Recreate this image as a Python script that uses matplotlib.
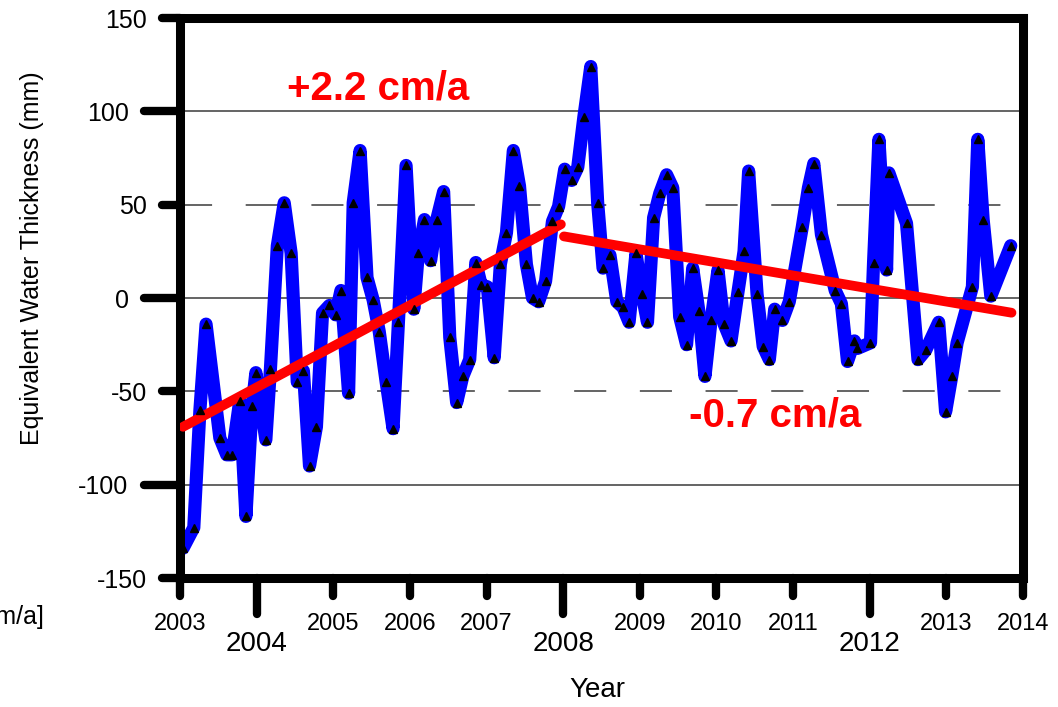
import numpy as np
import matplotlib
matplotlib.use('Agg')
import matplotlib.pyplot as plt
from matplotlib.markers import MarkerStyle, TICKDOWN, TICKLEFT

plt.rcParams['font.family'] = ['Liberation Sans', 'DejaVu Sans']
plt.rcParams['axes.unicode_minus'] = False

# monthly equivalent water thickness (decimal year, mm)
years = np.array([
    2003.04, 2003.18, 2003.26, 2003.34, 2003.52, 2003.61, 2003.68, 2003.78,
    2003.86, 2003.94, 2003.99, 2004.12, 2004.18, 2004.27, 2004.36, 2004.45,
    2004.53, 2004.61, 2004.69, 2004.78, 2004.86, 2004.95, 2005.03, 2005.10,
    2005.20, 2005.26, 2005.35, 2005.44, 2005.52, 2005.60, 2005.69, 2005.78,
    2005.85, 2005.95, 2006.05, 2006.11, 2006.19, 2006.27, 2006.35, 2006.44,
    2006.52, 2006.61, 2006.69, 2006.78, 2006.86, 2006.93, 2007.01, 2007.10,
    2007.18, 2007.26, 2007.35, 2007.43, 2007.52, 2007.60, 2007.68, 2007.77,
    2007.86, 2007.94, 2008.02, 2008.11, 2008.19, 2008.27, 2008.36, 2008.45,
    2008.52, 2008.61, 2008.70, 2008.78, 2008.86, 2008.95, 2009.03, 2009.10,
    2009.18, 2009.26, 2009.35, 2009.43, 2009.52, 2009.61, 2009.69, 2009.77,
    2009.85, 2009.93, 2010.02, 2010.10, 2010.19, 2010.28, 2010.36, 2010.42,
    2010.53, 2010.61, 2010.69, 2010.76, 2010.86, 2010.95, 2011.12, 2011.20,
    2011.27, 2011.37, 2011.55, 2011.63, 2011.71, 2011.80, 2011.84, 2012.01,
    2012.05, 2012.12, 2012.22, 2012.25, 2012.48, 2012.63, 2012.73, 2012.90,
    2012.99, 2013.07, 2013.14, 2013.34, 2013.41, 2013.48, 2013.58, 2013.84,
])
ewt = np.array([
    -134, -123, -60, -14, -75, -84, -84, -55,
    -117, -58, -40, -76, -38, 28, 51, 24,
    -45, -39, -90, -69, -8, -4, -9, 4,
    -51, 51, 79, 11, -1, -18, -45, -70,
    -13, 71, -6, 24, 42, 20, 42, 57,
    -21, -56, -42, -33, 19, 7, 6, -32,
    18, 35, 79, 60, 18, 0, -2, 9,
    41, 49, 69, 63, 70, 97, 124, 51,
    16, 23, -2, -5, -13, 24, 2, -13,
    43, 56, 66, 59, -10, -25, 16, -7,
    -42, -12, 15, -14, -23, 3, 25, 68,
    2, -26, -33, -6, -12, -2, 38, 59,
    72, 34, 4, -3, -34, -23, -27, -24,
    19, 85, 15, 67, 40, -33, -28, -13,
    -61, -42, -24, 6, 85, 42, 1, 28,
])

# linear trends, rates in cm/a
rate1, rate2 = 2.2, -0.7
trend1_x = np.array([2003.04, 2007.97])
trend1_y = -69 + rate1 * 10 * (trend1_x - trend1_x[0])
trend2_x = np.array([2008.01, 2013.85])
trend2_y = 33 + rate2 * 10 * (trend2_x - trend2_x[0])

major_x = [2004, 2008, 2012]
minor_x = [2003, 2005, 2006, 2007, 2009, 2010, 2011, 2013, 2014]
major_y = [-100, 0, 100]
minor_y = [-150, -50, 50, 150]

fig = plt.figure(figsize=(10.58, 7.07), dpi=100, facecolor='white')
ax = fig.add_axes([180 / 1058, 1 - 578 / 707, 843 / 1058, 560 / 707])

# horizontal grid: solid at major, dashed at minor levels
for v in major_y:
    ax.axhline(v, color='#3a3a3a', lw=1.1, zorder=1)
for v in [-50, 50]:
    ax.axhline(v, color='#3a3a3a', lw=1.1, ls=(0, (21, 22)), zorder=1)

ax.plot(years, ewt, color='#0000ff', lw=9.5, solid_joinstyle='round',
        solid_capstyle='round', zorder=2)
ax.plot(trend1_x, trend1_y, color='#ff0000', lw=7, solid_capstyle='round', zorder=3)
ax.plot(trend2_x, trend2_y, color='#ff0000', lw=7, solid_capstyle='round', zorder=3)
ax.plot(years, ewt, ls='none', marker='^', ms=6, color='black', zorder=4)

ax.text(2005.58, 112, f'+{rate1:.1f} cm/a', color='#ff0000', fontsize=29,
        fontweight='bold', ha='center', va='center', zorder=5)
ax.text(2010.77, -63, f'{rate2:.1f} cm/a', color='#ff0000', fontsize=29,
        fontweight='bold', ha='center', va='center', zorder=5)

ax.set_xlim(2003, 2014)
ax.set_ylim(-150, 150)

ax.set_xticks(major_x)
ax.set_xticklabels([str(y) for y in major_x])
ax.set_xticks(minor_x, minor=True)
ax.set_xticklabels([str(y) for y in minor_x], minor=True)
ax.set_yticks(major_y)
ax.set_yticklabels([str(v) for v in major_y])
ax.set_yticks(minor_y, minor=True)
ax.set_yticklabels([str(v) for v in minor_y], minor=True)

ax.tick_params(which='major', length=26, width=6, direction='out', color='black')
ax.tick_params(which='minor', length=13, width=6, direction='out', color='black')
ax.tick_params(axis='x', which='major', labelsize=20, pad=12)
ax.tick_params(axis='x', which='minor', labelsize=17, pad=12)
ax.tick_params(axis='y', which='both', labelsize=18, pad=11)

# rounded tick ends
for t in ax.xaxis.get_major_ticks() + ax.xaxis.get_minor_ticks():
    t.tick1line.set_marker(MarkerStyle(TICKDOWN, capstyle='round'))
for t in ax.yaxis.get_major_ticks() + ax.yaxis.get_minor_ticks():
    t.tick1line.set_marker(MarkerStyle(TICKLEFT, capstyle='round'))

for sp in ax.spines.values():
    sp.set_linewidth(6.5)
    sp.set_color('black')

fig.text(32 / 1058, 1 - 258 / 707, 'Equivalent Water Thickness (mm)',
         rotation=90, ha='center', va='center', fontsize=18)
fig.text(597 / 1058, 1 - 690 / 707, 'Year', ha='center', va='center', fontsize=20)
fig.text(44 / 1058, 1 - 617 / 707, '[cm/a]', ha='right', va='center', fontsize=18)

fig.savefig('out.png', dpi=100, facecolor='white')
